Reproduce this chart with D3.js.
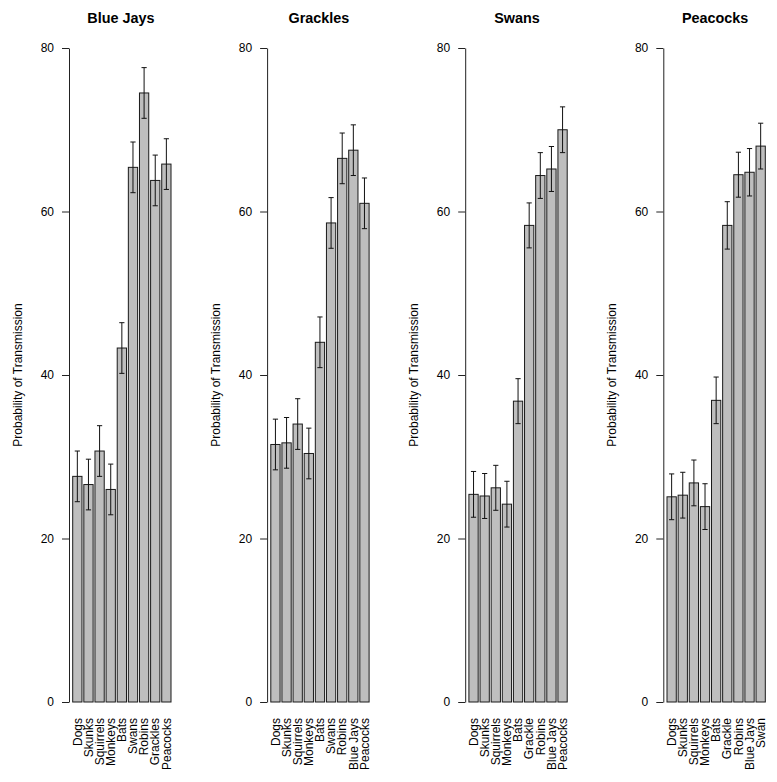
<!DOCTYPE html>
<html>
<head>
<meta charset="utf-8">
<script src="https://cdn.jsdelivr.net/npm/d3@7"></script>
<style>
  html, body { margin: 0; padding: 0; background: #fff; }
  svg { display: block; }
  text { font-family: "Liberation Sans", Arial, Helvetica, sans-serif; fill: #000; }
</style>
</head>
<body>
<svg id="chart" width="777" height="782"></svg>
<script>
// ---- Data ----
const titles = ["Blue Jays", "Grackles", "Swans", "Peacocks"];

const catsBlueJays = ["Dogs", "Skunks", "Squirrels", "Monkeys", "Bats", "Swans", "Robins", "Grackles", "Peacocks"];
const catsGrackles = ["Dogs", "Skunks", "Squirrels", "Monkeys", "Bats", "Swans", "Robins", "Blue Jays", "Peacocks"];
const catsSwans    = ["Dogs", "Skunks", "Squirrels", "Monkeys", "Bats", "Grackle", "Robins", "Blue Jays", "Peacocks"];
const catsPeacocks = ["Dogs", "Skunks", "Squirrels", "Monkeys", "Bats", "Grackle", "Robins", "Blue Jays", "Swan"];

const valsBlueJays = [27.6, 26.6, 30.7, 26.0, 43.3, 65.4, 74.5, 63.8, 65.8];
const valsGrackles = [31.5, 31.7, 34.0, 30.4, 44.0, 58.6, 66.5, 67.5, 61.0];
const valsSwans    = [25.4, 25.2, 26.2, 24.2, 36.8, 58.3, 64.4, 65.2, 70.0];
const valsPeacocks = [25.1, 25.3, 26.8, 23.9, 36.9, 58.3, 64.5, 64.8, 68.0];

const errBlueJays = [3.1, 3.1, 3.1, 3.1, 3.1, 3.1, 3.1, 3.1, 3.1];
const errGrackles = [3.1, 3.1, 3.1, 3.1, 3.1, 3.1, 3.1, 3.1, 3.1];
const errSwans    = [2.8, 2.75, 2.75, 2.8, 2.75, 2.75, 2.8, 2.75, 2.8];
const errPeacocks = [2.8, 2.8, 2.8, 2.8, 2.85, 2.9, 2.75, 2.9, 2.8];

const yTicks = [0, 20, 40, 60, 80];
const yLabel = "Probability of Transmission";

const panels = [
  { title: titles[0], cats: catsBlueJays, vals: valsBlueJays, errs: errBlueJays },
  { title: titles[1], cats: catsGrackles, vals: valsGrackles, errs: errGrackles },
  { title: titles[2], cats: catsSwans,    vals: valsSwans,    errs: errSwans },
  { title: titles[3], cats: catsPeacocks, vals: valsPeacocks, errs: errPeacocks }
];

// ---- Layout ----
const svg = d3.select("#chart");
const panelStep = 198.1;
const axisX0 = 69;
const y = d3.scaleLinear().domain([0, 80]).range([702, 48]);

panels.forEach((p, i) => {
  const ax = axisX0 + i * panelStep;
  const g = svg.append("g");

  const x = d3.scaleBand()
    .domain(p.cats)
    .range([ax + 3.7, ax + 102])
    .paddingInner(0.2 / 1.2)
    .paddingOuter(0);

  // y axis
  const axis = d3.axisLeft(y).tickValues(yTicks).tickSize(7).tickSizeOuter(0).tickPadding(8);
  const axG = g.append("g").attr("transform", `translate(${ax},0)`).call(axis);
  axG.select(".domain").attr("stroke", "#222").attr("stroke-width", 1);
  axG.selectAll(".tick line").attr("stroke", "#222");
  axG.selectAll(".tick text")
    .style("font-size", "12px")
    .style("font-family", "'Liberation Sans', Arial, sans-serif")
    .attr("fill", "#222");

  // bars
  g.selectAll("rect.bar").data(p.vals).join("rect")
    .attr("class", "bar")
    .attr("x", (d, j) => x(p.cats[j]))
    .attr("y", d => y(d))
    .attr("width", x.bandwidth())
    .attr("height", d => y(0) - y(d))
    .attr("fill", "#bebebe")
    .attr("stroke", "#1a1a1a")
    .attr("stroke-width", 1);

  // error bars
  const cap = 2.6;
  const eb = g.selectAll("g.err").data(p.vals).join("g").attr("class", "err");
  eb.append("line")
    .attr("x1", (d, j) => x(p.cats[j]) + x.bandwidth() / 2)
    .attr("x2", (d, j) => x(p.cats[j]) + x.bandwidth() / 2)
    .attr("y1", (d, j) => y(d - p.errs[j]))
    .attr("y2", (d, j) => y(d + p.errs[j]));
  eb.append("line")
    .attr("x1", (d, j) => x(p.cats[j]) + x.bandwidth() / 2 - cap)
    .attr("x2", (d, j) => x(p.cats[j]) + x.bandwidth() / 2 + cap)
    .attr("y1", (d, j) => y(d + p.errs[j]))
    .attr("y2", (d, j) => y(d + p.errs[j]));
  eb.append("line")
    .attr("x1", (d, j) => x(p.cats[j]) + x.bandwidth() / 2 - cap)
    .attr("x2", (d, j) => x(p.cats[j]) + x.bandwidth() / 2 + cap)
    .attr("y1", (d, j) => y(d - p.errs[j]))
    .attr("y2", (d, j) => y(d - p.errs[j]));
  eb.selectAll("line").attr("stroke", "#111").attr("stroke-width", 1);

  // x labels (rotated)
  g.selectAll("text.xl").data(p.cats).join("text")
    .attr("class", "xl")
    .attr("transform", d => `translate(${x(d) + x.bandwidth() / 2},718) rotate(-90)`)
    .attr("dy", "0.35em")
    .attr("text-anchor", "end")
    .style("font-size", "12px")
    .text(d => d);

  // title
  const cx = (x.range()[0] + x.range()[1]) / 2 - 1;
  g.append("text")
    .attr("x", cx)
    .attr("y", 22.5)
    .attr("text-anchor", "middle")
    .style("font-size", "14.4px")
    .style("font-weight", "bold")
    .text(p.title);

  // y label
  g.append("text")
    .attr("transform", `translate(${ax - 51 + 4},${(y(0) + y(80)) / 2}) rotate(-90)`)
    .attr("text-anchor", "middle")
    .style("font-size", "12px")
    .text(yLabel);
});
</script>
</body>
</html>
